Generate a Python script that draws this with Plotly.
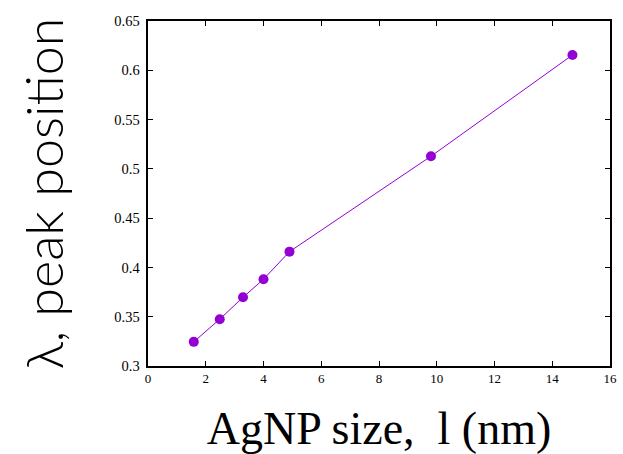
import plotly.graph_objects as go

# AgNP size (nm) and corresponding peak position
size_nm = [1.585, 2.485, 3.29, 4.0, 4.90, 9.80, 14.70]
peak_pos = [0.3245, 0.3475, 0.3697, 0.3880, 0.4160, 0.5128, 0.6155]

x_ticks = [0, 2, 4, 6, 8, 10, 12, 14, 16]
y_ticks = [0.3, 0.35, 0.4, 0.45, 0.5, 0.55, 0.6, 0.65]
y_tick_text = ["0.3", "0.35", "0.4", "0.45", "0.5", "0.55", "0.6", "0.65"]

SERIF = "Liberation Serif"

fig = go.Figure(
    go.Scatter(
        x=size_nm,
        y=peak_pos,
        mode="lines+markers",
        line=dict(color="#9400D3", width=1),
        marker=dict(color="#9400D3", size=10),
        showlegend=False,
    )
)

fig.update_xaxes(
    range=[0, 16],
    tickvals=x_ticks,
    ticktext=[str(v) for v in x_ticks],
    ticks="inside",
    ticklen=5,
    tickcolor="black",
    showline=True,
    linecolor="black",
    linewidth=1.5,
    mirror="ticks",
    showgrid=False,
    zeroline=False,
    automargin=False,
    tickfont=dict(family=SERIF, size=13, color="black"),
    title=dict(
        text="AgNP size,\u00a0 l (nm)",
        font=dict(family=SERIF, size=46, color="black"),
        standoff=26,
    ),
)

fig.update_yaxes(
    range=[0.3, 0.65],
    tickvals=y_ticks,
    ticktext=[t + "\u00a0" for t in y_tick_text],
    ticks="inside",
    ticklen=5,
    tickcolor="black",
    showline=True,
    linecolor="black",
    linewidth=1.5,
    mirror="ticks",
    showgrid=False,
    zeroline=False,
    automargin=False,
    tickfont=dict(family=SERIF, size=14.5, color="black"),
    title=dict(
        text="λ, peak position",
        font=dict(family="Lato", size=52, color="black", weight=300),
        standoff=34,
    ),
)

fig.update_layout(
    width=623,
    height=454,
    margin=dict(l=148, r=13, t=21, b=88),
    font=dict(family=SERIF, color="black"),
    plot_bgcolor="white",
    paper_bgcolor="white",
)

fig.write_html("out.html")
